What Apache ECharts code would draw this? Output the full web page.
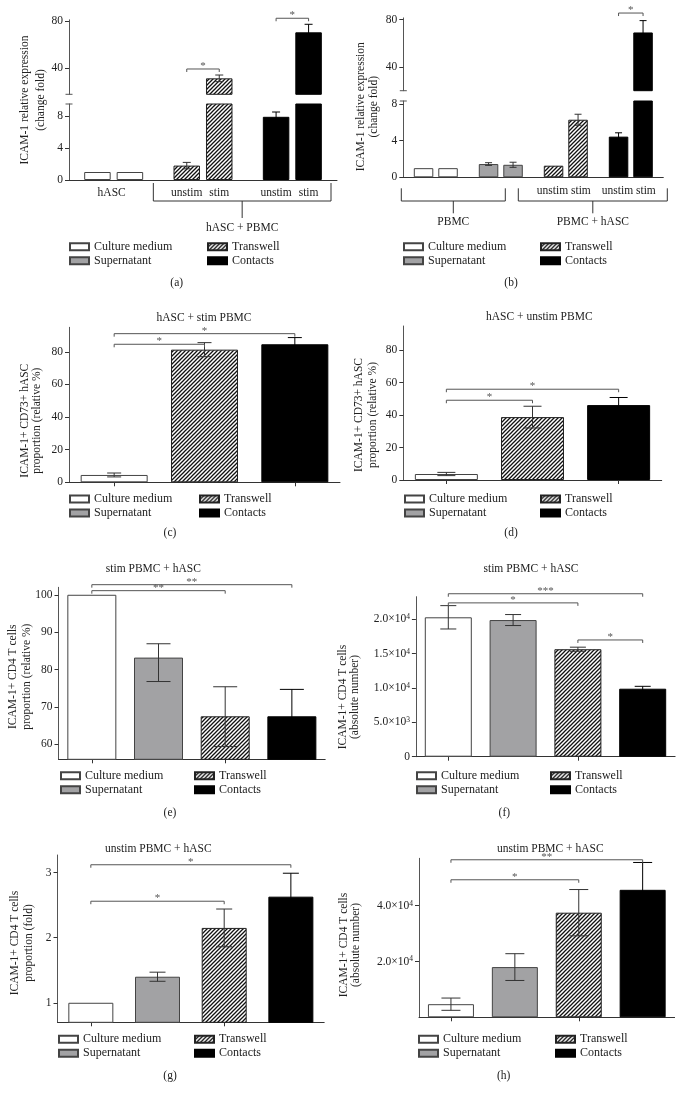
<!DOCTYPE html>
<html><head><meta charset="utf-8">
<script src="https://cdn.jsdelivr.net/npm/echarts@6/dist/echarts.min.js"></script>
<style>html,body{margin:0;padding:0;background:#fff}#chart{width:683px;height:1098px}</style>
</head><body><div id="chart"></div>
<script>
// ================= DATA =================
// (a) ICAM-1 relative expression in hASC
const aCategories = ['Culture medium', 'Transwell', 'Contacts'];
const aUnstim = [1.0, 1.8, 7.9];
const aUnstimErr = [0, 0.4, 0.6];
const aStim = [1.0, 31.5, 70.4];
const aStimErr = [0, 2.8, 6.8];
const aAxisLabels = [['hASC'], ['unstim', 'stim'], ['unstim', 'stim']];
const aGroups = [{ label: 'hASC + PBMC', from: 1, to: 2 }];
const aLowTicks = [0, 4, 8];
const aHighTicks = [40, 80];
const aSig = [
  { from: 1, fromSlot: -1, to: 1, toSlot: 1, y: 39.4, label: '*' },
  { from: 2, fromSlot: -1, to: 2, toSlot: 1, y: 82.3, label: '*' }
];

// (b) ICAM-1 relative expression in PBMC
const bCategories = ['Culture medium', 'Supernatant', 'Transwell', 'Contacts'];
const bUnstim = [1.0, 1.45, 1.27, 4.45];
const bUnstimErr = [0, 0.15, 0, 0.42];
const bStim = [1.0, 1.37, 6.3, 69.2];
const bStimErr = [0, 0.28, 0.6, 10];
const bAxisLabels = [[], [], ['unstim stim'], ['unstim stim']];
const bGroups = [{ label: 'PBMC', from: 0, to: 1 }, { label: 'PBMC + hASC', from: 2, to: 3 }];
const bLowTicks = [0, 4, 8];
const bHighTicks = [40, 80];
const bSig = [{ from: 3, fromSlot: -1, to: 3, toSlot: 1, y: 85.6, label: '*' }];

// (c) hASC + stim PBMC
const cCategories = ['Culture medium', 'Transwell', 'Contacts'];
const cValues = [4.5, 81.3, 84.6];
const cErr = [1.2, 4.3, 4.1];
const cTicks = [0, 20, 40, 60, 80];
const cSig = [{ from: 0, to: 1, y: 84.6, label: '*' }, { from: 0, to: 2, y: 91.1, label: '*' }];

// (d) hASC + unstim PBMC
const dCategories = ['Culture medium', 'Transwell', 'Contacts'];
const dValues = [3.7, 38.8, 46.2];
const dErr = [1.0, 6.7, 4.7];
const dTicks = [0, 20, 40, 60, 80];
const dSig = [{ from: 0, to: 1, y: 49.2, label: '*' }, { from: 0, to: 2, y: 56, label: '*' }];

// (e) stim PBMC + hASC, relative %
const eCategories = ['Culture medium', 'Supernatant', 'Transwell', 'Contacts'];
const eValues = [100, 83.2, 67.5, 67.5];
const eErrHigh = [0, 3.7, 7.9, 7.2];
const eErrLow = [0, 6.4, 8.1, 7.2];
const eTicks = [60, 70, 80, 90, 100];
const eSig = [{ from: 0, to: 2, y: 101.1, label: '**' }, { from: 0, to: 3, y: 102.7, label: '**' }];

// (f) stim PBMC + hASC, absolute number
const fCategories = ['Culture medium', 'Supernatant', 'Transwell', 'Contacts'];
const fValues = [20300, 19900, 15650, 9900];
const fErr = [1700, 800, 300, 350];
const fTicks = [0, 5000, 10000, 15000, 20000];
const fSig = [
  { from: 0, to: 2, y: 22400, label: '*' },
  { from: 0, to: 3, y: 23730, label: '***' },
  { from: 2, to: 3, y: 17000, label: '*' }
];

// (g) unstim PBMC + hASC, fold
const gCategories = ['Culture medium', 'Supernatant', 'Transwell', 'Contacts'];
const gValues = [1.0, 1.4, 2.15, 2.63];
const gErr = [0, 0.07, 0.29, 0.36];
const gTicks = [1, 2, 3];
const gSig = [{ from: 0, to: 2, y: 2.56, label: '*' }, { from: 0, to: 3, y: 3.12, label: '*' }];

// (h) unstim PBMC + hASC, absolute number
const hCategories = ['Culture medium', 'Supernatant', 'Transwell', 'Contacts'];
const hValues = [4700, 18000, 37500, 45700];
const hErr = [2200, 4800, 8300, 9800];
const hTicks = [20000, 40000];
const hSig = [{ from: 0, to: 2, y: 49300, label: '*' }, { from: 0, to: 3, y: 56470, label: '**' }];

// ================= STYLE =================
const FONT = '"Liberation Serif", "DejaVu Serif", serif';
const TXT = '#222';
const SIG = '#555';

function hatchPattern() {
  const c = document.createElement('canvas');
  c.width = 4; c.height = 4;
  const g = c.getContext('2d');
  g.fillStyle = '#fff'; g.fillRect(0, 0, 4, 4);
  g.strokeStyle = '#111'; g.lineWidth = 1.3;
  g.beginPath();
  g.moveTo(0, 4); g.lineTo(4, 0);
  g.moveTo(-1, 1); g.lineTo(1, -1);
  g.moveTo(3, 5); g.lineTo(5, 3);
  g.stroke();
  return { image: c, repeat: 'repeat' };
}
const barStyle = {
  'Culture medium': { color: '#ffffff', borderColor: '#444', borderWidth: 1 },
  'Supernatant': { color: '#a2a2a4', borderColor: '#444', borderWidth: 1 },
  'Transwell': { color: hatchPattern(), borderColor: '#222', borderWidth: 1 },
  'Contacts': { color: '#000000', borderColor: '#000', borderWidth: 1 }
};
const errColor = t => (t === 'Contacts' ? '#000' : '#333');

// ================= HELPERS =================
function errorSeries(items, g, slotOffset, cap) {
  return {
    type: 'custom', xAxisIndex: g, yAxisIndex: g, silent: true, z: 5, clip: false, animation: false,
    data: items.map(it => [it.cat, it.v]),
    renderItem: (params, api) => {
      const it = items[params.dataIndex];
      if (!it.hi && !it.lo) return null;
      const x = api.coord([it.cat, it.v])[0] + it.slot * slotOffset;
      const yT = api.coord([it.cat, it.v + it.hi])[1];
      const yB = api.coord([it.cat, it.v - it.lo])[1];
      const st = { stroke: it.color, lineWidth: 1 };
      return { type: 'group', children: [
        { type: 'line', shape: { x1: x, y1: yT, x2: x, y2: yB }, style: st },
        { type: 'line', shape: { x1: x - cap / 2, y1: yT, x2: x + cap / 2, y2: yT }, style: st },
        { type: 'line', shape: { x1: x - cap / 2, y1: yB, x2: x + cap / 2, y2: yB }, style: st }
      ] };
    }
  };
}
function sigSeries(items, g, slotOffset) {
  return {
    type: 'custom', xAxisIndex: g, yAxisIndex: g, silent: true, z: 6, clip: false, animation: false,
    data: items.map(s => [s.from, s.y]),
    renderItem: (params, api) => {
      const s = items[params.dataIndex];
      const p1 = api.coord([s.from, s.y]);
      const x1 = p1[0] + (s.fromSlot || 0) * slotOffset;
      const x2 = api.coord([s.to, s.y])[0] + (s.toSlot || 0) * slotOffset;
      const y = p1[1];
      return { type: 'group', children: [
        { type: 'polyline', shape: { points: [[x1, y + 3], [x1, y], [x2, y], [x2, y + 3]] },
          style: { stroke: SIG, lineWidth: 1, fill: null } },
        { type: 'text', style: { x: (x1 + x2) / 2, y: y - 3, text: s.label, fill: SIG,
          fontFamily: FONT, fontSize: 11, align: 'center', verticalAlign: 'middle' } }
      ] };
    }
  };
}
function catLabelSeries(labels, g, slotOffset, dy) {
  return {
    type: 'custom', xAxisIndex: g, yAxisIndex: g, silent: true, clip: false, animation: false,
    data: labels.map((l, i) => [i, 0]),
    renderItem: (params, api) => {
      const l = labels[params.dataIndex];
      const p = api.coord([params.dataIndex, 0]);
      const xs = l.length === 1 ? [p[0] - 2] : [p[0] - slotOffset, p[0] + slotOffset];
      return { type: 'group', children: l.map((s, k) => ({
        type: 'text', style: { x: xs[k], y: p[1] + dy, text: s, fill: TXT, fontFamily: FONT, fontSize: 11.5,
          align: 'center', verticalAlign: 'middle' } })) };
    }
  };
}
function groupSeries(groups, g, geo, pads) {
  return {
    type: 'custom', xAxisIndex: g, yAxisIndex: g, silent: true, clip: false, animation: false,
    data: groups.map(gr => [gr.from, 0]),
    renderItem: (params, api) => {
      const gr = groups[params.dataIndex];
      const band = api.size([1, 0])[0];
      const pa = api.coord([gr.from, 0]);
      const pb = api.coord([gr.to, 0]);
      const pad = pads[params.dataIndex];
      const xl = pa[0] - band / 2 + pad[0];
      const xr = pb[0] + band / 2 + pad[1];
      const y0 = pa[1];
      const yl = y0 + geo.line;
      const xm = (xl + xr) / 2;
      const st = { stroke: '#333', lineWidth: 1, fill: null };
      return { type: 'group', children: [
        { type: 'polyline', shape: { points: [[xl, y0 + geo.endTop], [xl, yl], [xr, yl], [xr, y0 + geo.endTop]] }, style: st },
        { type: 'line', shape: { x1: xm, y1: yl, x2: xm, y2: y0 + geo.stem }, style: st },
        { type: 'text', style: { x: xm, y: y0 + geo.label, text: gr.label, fill: TXT, fontFamily: FONT, fontSize: 11.5,
          align: 'center', verticalAlign: 'middle' } }
      ] };
    }
  };
}
function barSeries(name, g, stack, data, barWidth, barGap) {
  const s = { type: 'bar', name, xAxisIndex: g, yAxisIndex: g, stack, barWidth, data,
    itemStyle: barStyle[name], emphasis: { disabled: true }, animation: false, clip: true };
  if (barGap !== undefined) s.barGap = barGap;
  return s;
}
function pairPanel(p) {
  const series = [];
  [[p.loGrid, v => v], [p.hiGrid, v => (v > p.breakMin ? v : null)]].forEach(([g, f], layer) => {
    p.cats.forEach((t, i) => {
      [p.unstim, p.stim].forEach((vals, k) => {
        series.push(barSeries(t, g, p.key + layer + (k ? 's' : 'u'),
          p.cats.map((_, j) => (j === i ? f(vals[j]) : null)), p.barWidth, p.barGap));
      });
    });
  });
  const lo = [], hi = [];
  p.cats.forEach((t, i) => {
    [[p.unstim, p.unstimErr, -1], [p.stim, p.stimErr, 1]].forEach(([vals, errs, slot]) => {
      const it = { cat: i, v: vals[i], hi: errs[i], lo: errs[i], slot, color: errColor(t) };
      (vals[i] > p.breakMin ? hi : lo).push(it);
    });
  });
  series.push(errorSeries(lo, p.loGrid, p.slotOffset, p.cap));
  series.push(errorSeries(hi, p.hiGrid, p.slotOffset, p.cap));
  series.push(sigSeries(p.sig, p.hiGrid, p.slotOffset));
  series.push(catLabelSeries(p.axisLabels, p.loGrid, p.slotOffset, p.labelDy));
  series.push(groupSeries(p.groups, p.loGrid, p.groupGeo, p.groupPads));
  return series;
}
function singlePanel(p) {
  const series = [];
  p.cats.forEach((t, i) => {
    series.push(barSeries(t, p.grid, 'st' + p.grid, p.cats.map((_, j) => (j === i ? p.values[j] : null)), p.barWidth));
  });
  const lows = p.errLow || p.err;
  series.push(errorSeries(p.cats.map((t, i) => ({ cat: i, v: p.values[i], hi: p.err[i], lo: lows[i], slot: 0, color: errColor(t) })),
    p.grid, 0, p.cap));
  series.push(sigSeries(p.sig, p.grid, 0));
  return series;
}
function sci(v) {
  if (v === 0) return '0';
  const e = Math.floor(Math.log10(v));
  const m = v / Math.pow(10, e);
  return m.toFixed(1) + '×10{e|' + e + '}';
}

// ================= LAYOUT =================
const grids = [
  { left: 69, top: 104, width: 268, height: 76 },      // 0 a low
  { left: 69, top: 19.8, width: 268, height: 74.5 },   // 1 a high
  { left: 403.3, top: 101, width: 260, height: 76.3 }, // 2 b low
  { left: 403.3, top: 17.9, width: 260, height: 72.8 },// 3 b high
  { left: 69, top: 327.3, width: 271, height: 155 },   // 4 c
  { left: 403.3, top: 326, width: 258.4, height: 154 },// 5 d
  { left: 58.5, top: 587.3, width: 266.7, height: 172 },// 6 e
  { left: 415.9, top: 596.7, width: 259.2, height: 160 },// 7 f
  { left: 57.5, top: 855, width: 266.7, height: 167.3 },// 8 g
  { left: 419, top: 858.3, width: 255.6, height: 159 } // 9 h
];
const gridCats = [aCategories, aCategories, bCategories, bCategories, cCategories, dCategories,
  eCategories, fCategories, gCategories, hCategories];

const xAxes = grids.map((_, g) => ({
  type: 'category', gridIndex: g, data: gridCats[g], show: !(g === 1 || g === 3),
  axisLine: { show: true, lineStyle: { color: '#333' } },
  axisTick: { show: g >= 4, alignWithLabel: true, length: 4, lineStyle: { color: '#333' } },
  axisLabel: { show: false }, splitLine: { show: false }
}));

function yAx(g, min, max, ticks, fmt, sym) {
  return {
    type: 'value', gridIndex: g, min, max,
    axisLine: { show: true, lineStyle: { color: '#555' }, symbol: sym || ['none', 'none'], symbolSize: [7, 1] },
    axisTick: { show: true, length: 4, customValues: ticks, lineStyle: { color: '#333' } },
    axisLabel: { customValues: ticks, formatter: fmt || (v => String(v)), margin: 6, fontFamily: FONT,
      fontSize: 11.5, color: TXT, rich: { e: { fontSize: 7.5, fontFamily: FONT, color: TXT, verticalAlign: 'top', lineHeight: 8 } } },
    splitLine: { show: false }
  };
}
const yAxes = [
  yAx(0, 0, 9.5, aLowTicks, null, ['none', 'rect']),
  yAx(1, 18, 81, aHighTicks, null, ['rect', 'none']),
  yAx(2, 0, 8.35, bLowTicks, null, ['none', 'rect']),
  yAx(3, 20, 81.5, bHighTicks, null, ['rect', 'none']),
  yAx(4, 0, 95, cTicks),
  yAx(5, 0, 95, dTicks),
  yAx(6, 56, 102, eTicks),
  yAx(7, 0, 23300, fTicks, sci),
  yAx(8, 0.7, 3.27, gTicks),
  yAx(9, 0, 57000, hTicks, sci)
];

let series = [];
series = series.concat(pairPanel({
  key: 'a', cats: aCategories, unstim: aUnstim, unstimErr: aUnstimErr, stim: aStim, stimErr: aStimErr,
  loGrid: 0, hiGrid: 1, breakMin: 18, barWidth: 26.5, barGap: '22.6%', slotOffset: 16.25, cap: 8,
  sig: aSig, axisLabels: aAxisLabels, labelDy: 12.7, groups: aGroups,
  groupGeo: { line: 21, endTop: 3, stem: 38, label: 48 }, groupPads: [[-5, -6]]
}));
series = series.concat(pairPanel({
  key: 'b', cats: bCategories, unstim: bUnstim, unstimErr: bUnstimErr, stim: bStim, stimErr: bStimErr,
  loGrid: 2, hiGrid: 3, breakMin: 20, barWidth: 19.5, barGap: '25.6%', slotOffset: 12.25, cap: 7,
  sig: bSig, axisLabels: bAxisLabels, labelDy: 13.4, groups: bGroups,
  groupGeo: { line: 23.7, endTop: 11, stem: 36, label: 44.4 }, groupPads: [[-2, -28], [-15, 4]]
}));
series = series.concat(singlePanel({ grid: 4, cats: cCategories, values: cValues, err: cErr, sig: cSig, barWidth: 67, cap: 14 }));
series = series.concat(singlePanel({ grid: 5, cats: dCategories, values: dValues, err: dErr, sig: dSig, barWidth: 63, cap: 18 }));
series = series.concat(singlePanel({ grid: 6, cats: eCategories, values: eValues, err: eErrHigh, errLow: eErrLow, sig: eSig, barWidth: 49, cap: 24 }));
series = series.concat(singlePanel({ grid: 7, cats: fCategories, values: fValues, err: fErr, sig: fSig, barWidth: 47, cap: 16 }));
series = series.concat(singlePanel({ grid: 8, cats: gCategories, values: gValues, err: gErr, sig: gSig, barWidth: 45, cap: 16 }));
series = series.concat(singlePanel({ grid: 9, cats: hCategories, values: hValues, err: hErr, sig: hSig, barWidth: 46, cap: 19 }));

// legends: two columns per panel
const legendSpots = [
  [69, 207, 246.7], [403, 540, 246.7], [69, 199, 499], [404, 540, 499],
  [60, 194, 775.7], [416, 550, 775.7], [58, 194, 1039.3], [418, 555, 1039.3]
];
const legendCols = [['Culture medium', 'Supernatant'], ['Transwell', 'Contacts']];
const legends = [];
legendSpots.forEach(([xl, xr, yc]) => {
  [xl, xr].forEach((x, k) => legends.push({
    left: x, top: yc - 7, orient: 'vertical', data: legendCols[k], icon: 'rect',
    itemWidth: 19, itemHeight: 7, itemGap: 0, padding: 0, selectedMode: false,
    textStyle: { fontFamily: FONT, fontSize: 12, color: TXT, lineHeight: 14 }
  }));
});

const panelTitles = [
  ['hASC + stim PBMC', 204, 318.3], ['hASC + unstim PBMC', 539.3, 316.7],
  ['stim PBMC + hASC', 153.3, 569], ['stim PBMC + hASC', 531, 569],
  ['unstim PBMC + hASC', 158.3, 849.3], ['unstim PBMC + hASC', 550.3, 849.3],
  ['(a)', 176.7, 282.7], ['(b)', 511, 282.7], ['(c)', 170, 532.7], ['(d)', 511, 532.7],
  ['(e)', 170, 812.7], ['(f)', 504.3, 812.7], ['(g)', 170, 1076], ['(h)', 503.7, 1076]
];
const titles = panelTitles.map(([text, x, y]) => ({
  text, left: x, top: y, textAlign: 'center', textVerticalAlign: 'middle', padding: 0,
  textStyle: { fontFamily: FONT, fontSize: 11.5, fontWeight: 'normal', color: TXT }
}));

const yNames = [
  ['ICAM-1 relative expression\n(change fold)', 33.3, 100, 16],
  ['ICAM-1 relative expression\n(change fold)', 367.7, 106.7, 13.5],
  ['ICAM-1+ CD73+ hASC\nproportion (relative %)', 30.9, 420.7, 12.5],
  ['ICAM-1+ CD73+ hASC\nproportion (relative %)', 366.3, 415, 14],
  ['ICAM-1+ CD4 T cells\nproportion (relative %)', 20.3, 676.7, 14],
  ['ICAM-1+ CD4 T cells\n(absolute number)', 349, 697, 12.5],
  ['ICAM-1+ CD4 T cells\nproportion (fold)', 22, 943, 14],
  ['ICAM-1+ CD4 T cells\n(absolute number)', 350, 945, 12.5]
];
const graphic = yNames.map(([text, x, y, lh]) => ({
  type: 'text', x, y, rotation: Math.PI / 2, silent: true,
  style: { text, align: 'center', verticalAlign: 'middle', fontFamily: FONT, fontSize: 11.5, lineHeight: lh, fill: TXT }
}));

const chart = echarts.init(document.getElementById('chart'), null, { renderer: 'canvas', width: 683, height: 1098 });
chart.setOption({
  backgroundColor: '#fff',
  animation: false,
  title: titles,
  legend: legends,
  grid: grids.map(g => Object.assign({ containLabel: false }, g)),
  xAxis: xAxes,
  yAxis: yAxes,
  series,
  graphic
});
</script>
</body></html>
